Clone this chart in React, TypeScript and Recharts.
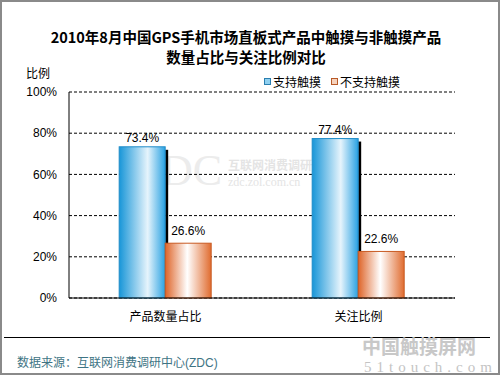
import { Bar, BarChart, CartesianGrid, LabelList, XAxis, YAxis } from "recharts";

const categories = ["产品数量占比", "关注比例"];
const touch = [0.734, 0.774];
const nonTouch = [0.266, 0.226];
const yTicks = [0, 0.2, 0.4, 0.6, 0.8, 1];
const seriesNames = ["支持触摸", "不支持触摸"];

const data = categories.map((name, i) => ({ name, touch: touch[i], nonTouch: nonTouch[i] }));

const font = "'Liberation Sans', Arial, 'Noto Sans CJK SC', sans-serif";
const pct = (v: number) => `${(v * 100).toFixed(1)}%`;

function ShadowBar(props: any) {
  const { x, y, width, height, fill, stroke } = props;
  return (
    <g>
      <rect x={x + width} y={y + 3} width={3} height={height - 3} fill="#000" />
      <rect x={x} y={y} width={width} height={height} fill={fill} stroke={stroke} strokeWidth={1} />
    </g>
  );
}

function PlainBar(props: any) {
  const { x, y, width, height, fill, stroke } = props;
  return <rect x={x} y={y} width={width} height={height} fill={fill} stroke={stroke} strokeWidth={1} />;
}

export default function App() {
  return (
    <div
      style={{
        position: "fixed",
        left: 0,
        top: 0,
        width: 500,
        height: 375,
        boxSizing: "border-box",
        border: "2px solid #8a8a8a",
        background: "#fff",
        fontFamily: font,
        overflow: "hidden",
      }}
    >
      <div style={{ position: "absolute", left: 2, right: 8, top: 335, height: 0, borderTop: "1px solid #000" }} />
      <div
        style={{
          position: "absolute",
          left: -2,
          top: 25,
          width: 492,
          textAlign: "center",
          fontWeight: "bold",
          fontSize: 14.5,
          lineHeight: "20px",
          fontFamily: "'Noto Sans CJK SC', sans-serif",
        }}
      >
        2010年8月中国GPS手机市场直板式产品中触摸与非触摸产品
        <br />
        数量占比与关注比例对比
      </div>
      <div style={{ position: "absolute", left: 24, top: 62, fontSize: 12 }}>比例</div>
      <div
        style={{
          position: "absolute",
          left: 262,
          top: 71,
          fontSize: 12,
          display: "flex",
          alignItems: "center",
          whiteSpace: "nowrap",
        }}
      >
        {seriesNames.map((s, i) => (
          <span key={s} style={{ display: "flex", alignItems: "center", marginRight: 10 }}>
            <span
              style={{
                display: "inline-block",
                width: 5,
                height: 5,
                border: `1px solid ${i === 0 ? "#2b7fb0" : "#b85a28"}`,
                background: i === 0 ? "#8fd0f0" : "#f6d2bd",
                marginRight: 2,
              }}
            />
            {s}
          </span>
        ))}
      </div>

      {/* faint watermarks */}
      <div style={{ position: "absolute", left: 132, top: 149, fontSize: 44, lineHeight: "40px", color: "#ececec", fontFamily: "'Liberation Serif', serif" }}>
        ZDC
      </div>
      <div style={{ position: "absolute", left: 226, top: 156, fontSize: 12, color: "#e4e4e4", lineHeight: "16px", fontWeight: "bold" }}>
        互联网消费调研中心
        <br />
        <span style={{ fontFamily: "'Liberation Serif', serif", fontWeight: "normal" }}>zdc.zol.com.cn</span>
      </div>
      <div style={{ position: "absolute", left: 360, top: 336, fontSize: 19, color: "#c8c8c8", fontWeight: "bold", lineHeight: "20px" }}>
        中国触摸屏网
      </div>
      <div style={{ position: "absolute", left: 362, top: 358, fontSize: 15, lineHeight: "14px", color: "#c4c4c4", letterSpacing: 5, fontFamily: "'Liberation Serif', serif" }}>
        51touch.com
      </div>

      <div style={{ position: "absolute", left: -2, top: -2 }}>
        <BarChart
          width={500}
          height={375}
          data={data}
          margin={{ top: 92, right: 45, left: 9, bottom: 47 }}
          barCategoryGap="26%"
          barGap={0}
        >
          <defs>
            <linearGradient id="blue-grad" x1="0" y1="0" x2="1" y2="0">
              <stop offset="0%" stopColor="#1896d8" />
              <stop offset="62%" stopColor="#e6f4fc" />
              <stop offset="100%" stopColor="#2aa2e2" />
            </linearGradient>
            <linearGradient id="orange-grad" x1="0" y1="0" x2="1" y2="0">
              <stop offset="0%" stopColor="#de6428" />
              <stop offset="48%" stopColor="#ffffff" />
              <stop offset="100%" stopColor="#e06c30" />
            </linearGradient>
          </defs>
          <CartesianGrid vertical={false} stroke="#000" strokeDasharray="3 2" />
          <XAxis
            dataKey="name"
            axisLine={{ stroke: "#000" }}
            tickLine={false}
            tick={{ fill: "#000", fontSize: 12, fontFamily: font }}
            tickMargin={8}
            height={30}
          />
          <XAxis xAxisId="top" orientation="top" dataKey="name" height={0} tick={false} tickLine={false} axisLine={{ stroke: "#808080" }} />
          <YAxis
            domain={[0, 1]}
            ticks={yTicks}
            tickFormatter={(v) => `${Math.round(v * 100)}%`}
            axisLine={{ stroke: "#000" }}
            tickLine={false}
            tick={{ fill: "#000", fontSize: 12, fontFamily: font }}
            tickMargin={6}
            width={60}
          />
          <YAxis yAxisId="right" orientation="right" domain={[0, 1]} width={0} tick={false} tickLine={false} axisLine={{ stroke: "#808080" }} />
          <Bar dataKey="touch" fill="url(#blue-grad)" stroke="#1f8cc8" shape={ShadowBar} isAnimationActive={false}>
            <LabelList dataKey="touch" position="top" offset={5} formatter={pct} fill="#000" fontSize={12} fontFamily={font} />
          </Bar>
          <Bar dataKey="nonTouch" fill="url(#orange-grad)" stroke="#c85a22" shape={PlainBar} isAnimationActive={false}>
            <LabelList dataKey="nonTouch" position="top" offset={8} formatter={pct} fill="#000" fontSize={12} fontFamily={font} />
          </Bar>
        </BarChart>
      </div>

      <div style={{ position: "absolute", left: 15, top: 351, fontSize: 12, color: "#3e7484" }}>
        数据来源：互联网消费调研中心(ZDC)
      </div>
    </div>
  );
}
